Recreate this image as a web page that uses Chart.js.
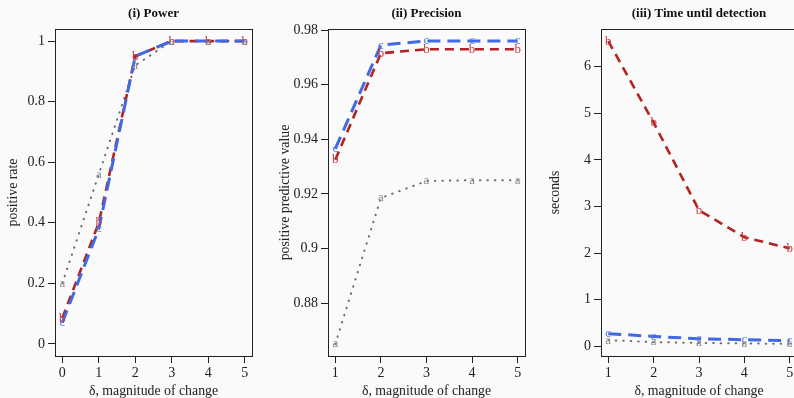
<!DOCTYPE html>
<html>
<head>
<meta charset="utf-8">
<script src="https://cdn.jsdelivr.net/npm/chart.js"></script>
<style>
  body { margin: 0; background: #fafafa; overflow: hidden; width: 794px; height: 398px; position: relative; }
  canvas { position: absolute; top: 0; }
</style>
</head>
<body>
<canvas id="power" width="262" height="398" style="left:0px"></canvas>
<canvas id="precision" width="263" height="398" style="left:270px"></canvas>
<canvas id="time" width="264" height="398" style="left:540px"></canvas>
<script>
// valeurs
const deltaPower = [0, 1, 2, 3, 4, 5];
const powerA = [0.2, 0.56, 0.92, 1, 1, 1];
const powerB = [0.085, 0.40, 0.95, 1, 1, 1];
const powerC = [0.07, 0.38, 0.95, 1, 1, 1];

const delta = [1, 2, 3, 4, 5];
const precA = [0.865, 0.9185, 0.9247, 0.925, 0.925];
const precB = [0.9325, 0.9715, 0.973, 0.973, 0.973];
const precC = [0.9365, 0.9745, 0.976, 0.976, 0.976];

const timeA = [0.13, 0.09, 0.07, 0.06, 0.05];
const timeB = [6.55, 4.8, 2.92, 2.34, 2.1];
const timeC = [0.27, 0.21, 0.16, 0.14, 0.12];

const powerTicks = [0, 0.2, 0.4, 0.6, 0.8, 1];
const precTicks = [0.88, 0.9, 0.92, 0.94, 0.96, 0.98];
const timeTicks = [0, 1, 2, 3, 4, 5, 6];
const powerXTicks = [0, 1, 2, 3, 4, 5];
const deltaXTicks = [1, 2, 3, 4, 5];

Chart.defaults.font.family = 'Liberation Serif';
Chart.defaults.color = '#222';

// style des séries a, b, c
const series = {
  a: { color: '#6a6a6a', letter: '#8a8a8a', dash: [0.5, 7], width: 2, cap: 'round' },
  b: { color: '#b22222', letter: '#c83c3c', dash: [9, 6], width: 2.6, cap: 'butt' },
  c: { color: '#4169e1', letter: '#5a7de6', dash: [13, 7], width: 3, cap: 'butt' }
};

// lettres comme symboles de points
const letterPlugin = {
  id: 'letters',
  afterDatasetsDraw(chart) {
    const ctx = chart.ctx;
    ctx.save();
    ctx.font = '13px Liberation Serif';
    ctx.textAlign = 'center';
    ctx.textBaseline = 'middle';
    chart.data.datasets.forEach((ds, i) => {
      const meta = chart.getDatasetMeta(i);
      ctx.fillStyle = series[ds.label].letter;
      meta.data.forEach(p => ctx.fillText(ds.label, p.x, p.y));
    });
    ctx.restore();
  }
};

// cadre autour de la zone du graphique
const boxPlugin = {
  id: 'box',
  afterDraw(chart) {
    const a = chart.chartArea;
    const ctx = chart.ctx;
    ctx.save();
    ctx.strokeStyle = '#222';
    ctx.lineWidth = 1;
    ctx.strokeRect(Math.round(a.left) + 0.5, Math.round(a.top) + 0.5,
      Math.round(a.right - a.left), Math.round(a.bottom - a.top));
    ctx.restore();
  }
};

function makeDataset(name, xs, ys) {
  const s = series[name];
  return {
    label: name,
    data: xs.map((x, i) => ({ x: x, y: ys[i] })),
    borderColor: s.color,
    borderWidth: s.width,
    borderDash: s.dash,
    borderCapStyle: s.cap,
    pointRadius: 0,
    fill: false,
    tension: 0
  };
}

function makePanel(id, cfg) {
  new Chart(document.getElementById(id), {
    type: 'line',
    data: {
      datasets: [
        makeDataset('c', cfg.x, cfg.c),
        makeDataset('b', cfg.x, cfg.b),
        makeDataset('a', cfg.x, cfg.a)
      ]
    },
    options: {
      responsive: false,
      animation: false,
      events: [],
      layout: { padding: { left: 0, right: cfg.padRight, top: 0, bottom: 0 } },
      plugins: {
        legend: { display: false },
        tooltip: { enabled: false },
        title: {
          display: true,
          fullSize: false,
          text: cfg.title,
          color: '#111',
          font: { size: 13, weight: 'bold' },
          padding: { top: 6, bottom: 7.4 }
        }
      },
      scales: {
        x: {
          type: 'linear',
          min: cfg.xMin,
          max: cfg.xMax,
          afterBuildTicks: s => { s.ticks = cfg.xTicks.map(v => ({ value: v })); },
          afterFit: s => { s.height = 42; },
          grid: { drawOnChartArea: false, drawTicks: true, tickLength: 7, color: '#222' },
          border: { display: true, color: '#222' },
          ticks: { font: { size: 14 }, padding: 2, maxRotation: 0, callback: v => String(v) },
          title: { display: true, text: 'δ, magnitude of change', font: { size: 13.8, lineHeight: 1 }, padding: { top: 0, bottom: 0 } }
        },
        y: {
          type: 'linear',
          min: cfg.yMin,
          max: cfg.yMax,
          afterBuildTicks: s => { s.ticks = cfg.yTicks.map(v => ({ value: v })); },
          afterFit: s => { s.width = cfg.yWidth; },
          grid: { drawOnChartArea: false, drawTicks: true, tickLength: 7, color: '#222' },
          border: { display: true, color: '#222' },
          ticks: { font: { size: 14 }, padding: 3, callback: v => String(v) },
          title: { display: true, text: cfg.yTitle, font: { size: 13.8 }, padding: { top: cfg.yTitlePad, bottom: 0 } }
        }
      }
    },
    plugins: [letterPlugin, boxPlugin]
  });
}

makePanel('power', {
  title: '(i) Power', yTitle: 'positive rate',
  x: deltaPower, a: powerA, b: powerB, c: powerC,
  xMin: -0.2, xMax: 5.2, xTicks: powerXTicks,
  yMin: -0.04, yMax: 1.04, yTicks: powerTicks,
  yWidth: 55, yTitlePad: 5, padRight: 10
});

makePanel('precision', {
  title: '(ii) Precision', yTitle: 'positive predictive value',
  x: delta, a: precA, b: precB, c: precC,
  xMin: 0.84, xMax: 5.16, xTicks: deltaXTicks,
  yMin: 0.8606, yMax: 0.9804, yTicks: precTicks,
  yWidth: 58, yTitlePad: 7, padRight: 8
});

makePanel('time', {
  title: '(iii) Time until detection', yTitle: 'seconds',
  x: delta, a: timeA, b: timeB, c: timeC,
  xMin: 0.84, xMax: 5.16, xTicks: deltaXTicks,
  yMin: -0.21, yMax: 6.81, yTicks: timeTicks,
  yWidth: 61, yTitlePad: 7, padRight: 7
});
</script>
</body>
</html>
